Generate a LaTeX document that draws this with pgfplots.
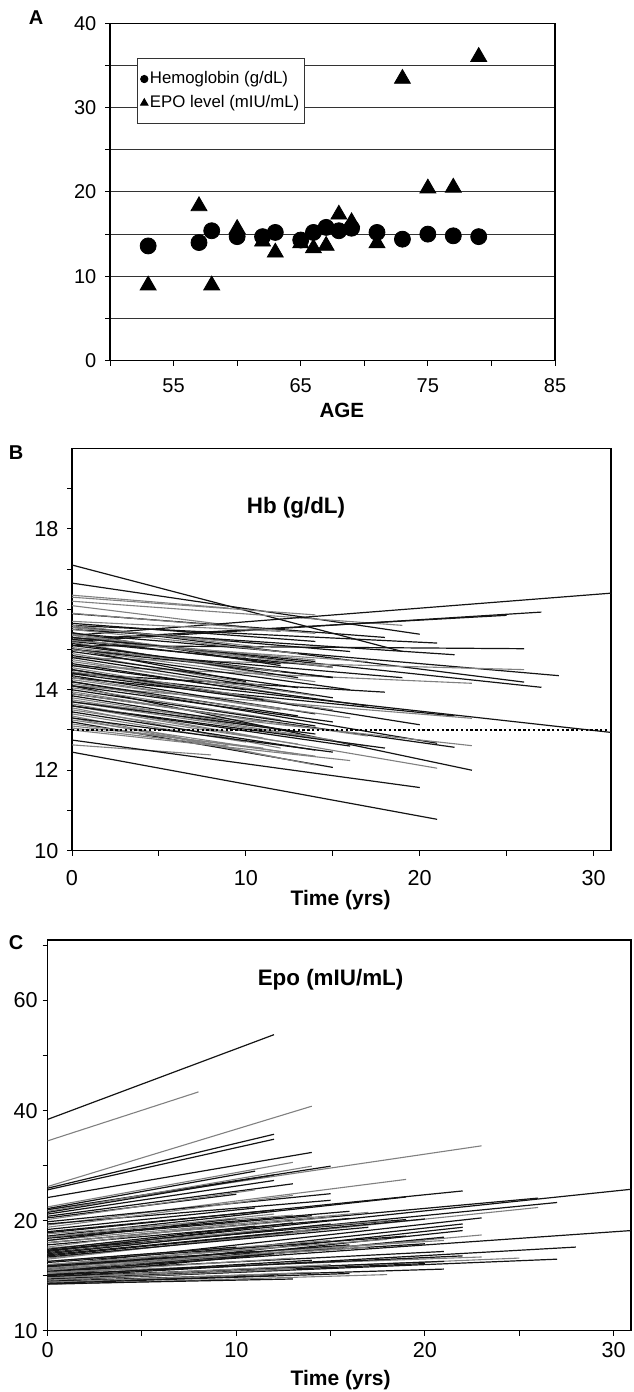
\documentclass[border=0pt]{standalone}
\usepackage{fontspec}
\setmainfont{Liberation Sans}
\usepackage{pgfplots}
\pgfplotsset{compat=1.18}

\tikzset{
  k/.style={black!92, line width=0.6pt},
  g/.style={black!50, line width=0.55pt},
}
\pgfplotsset{
  panel/.style={
    scale only axis, enlargelimits=false,
    axis line style={black, line width=0.6pt},
    tick style={black, line width=0.5pt},
    tick align=outside, major tick length=2.5pt,
    xtick pos=left, ytick pos=left,
    /pgf/number format/assume math mode=true,
  },
}

\begin{document}
\begin{tikzpicture}

% ---------------- A ----------------
\begin{axis}[panel,
  at={(55pt,-180.3pt)}, anchor=south west,
  width=222.5pt, height=168.65pt,
  xmin=50, xmax=85, ymin=0, ymax=40,
  xtick={50,55,...,85}, xticklabels={,55,,65,,75,,85},
  ytick={0,5,...,40}, yticklabels={0,,10,,20,,30,,40},
  ymajorgrids, grid style={black!80, line width=0.5pt},
  ticklabel style={font=\fontsize{10}{12}\selectfont},
  xticklabel style={yshift=-3pt},
  yticklabel style={xshift=-0.8pt},
  xlabel={\bfseries AGE},
  xlabel style={font=\fontsize{10.3}{12}\selectfont, at={(axis description cs:0.521,-0.1465)}, anchor=center},
  legend image code/.code={\draw[#1] plot coordinates {(0pt,0pt)};},
  legend style={at={(0.061,0.897)}, anchor=north west, draw=black!80, line width=0.5pt,
    fill=white, font=\fontsize{8.4}{10}\selectfont, cells={anchor=west},
    inner xsep=1.5pt, inner ysep=6pt, row sep=3.5pt,
    nodes={inner xsep=1pt, inner ysep=0pt, text height=6.5pt, text depth=2pt}},
]
\addplot[only marks, mark=*, mark size=4pt, black, forget plot] coordinates {
  (53,13.6)(57,14.0)(58,15.4)(60,14.7)(62,14.7)(63,15.2)(65,14.3)(66,15.2)
  (67,15.8)(68,15.4)(69,15.7)(71,15.2)(73,14.4)(75,15.0)(77,14.8)(79,14.7)};
\addplot[only marks, mark=triangle*, mark size=4.6pt, black, mark options={yshift=-1.15pt}, forget plot] coordinates {
  (53,9.2)(57,18.6)(58,9.2)(60,15.9)(62,14.4)(63,13.1)(65,14.2)(66,13.6)
  (67,13.9)(68,17.6)(69,16.7)(71,14.2)(73,33.7)(75,20.7)(77,20.8)(79,36.3)};
\addlegendimage{black, mark=*, mark size=1.8pt}
\addlegendentry{Hemoglobin (g/dL)}
\addlegendimage{black, mark=triangle*, mark size=2.1pt}
\addlegendentry{EPO level (mIU/mL)}
\end{axis}

% ---------------- B ----------------
\begin{axis}[panel,
  at={(36pt,-425.35pt)}, anchor=south west,
  width=269.5pt, height=201.2pt,
  xmin=0, xmax=31, ymin=10, ymax=20,
  xtick={0,5,...,30}, xticklabels={0,,10,,20,,30},
  ytick={10,11,...,19}, yticklabels={10,,12,,14,,16,,18,},
  ticklabel style={font=\fontsize{10.8}{12}\selectfont},
  xticklabel style={yshift=-4pt},
  yticklabel style={xshift=-0.8pt},
  xlabel={\bfseries Time (yrs)},
  xlabel style={font=\fontsize{10.5}{12}\selectfont, at={(axis description cs:0.4985,-0.1225)}, anchor=center},
]
\addplot[k] coordinates {(0,17.10)(19,14.95)};
\addplot[k] coordinates {(0,16.65)(20,15.38)};
\addplot[g] coordinates {(0,16.35)(9,16.03)};
\addplot[g] coordinates {(0,16.30)(14,15.86)};
\addplot[g] coordinates {(0,16.20)(19,15.60)};
\addplot[g] coordinates {(0,16.09)(11,15.50)};
\addplot[k] coordinates {(0,15.89)(18,15.30)};
\addplot[k] coordinates {(0,15.35)(31,16.40)};
\addplot[k] coordinates {(0,15.20)(27,15.93)};
\addplot[k] coordinates {(0,15.25)(25,15.85)};
\addplot[k] coordinates {(0,15.60)(21,15.16)};
\addplot[k] coordinates {(0,15.50)(22,14.87)};
\addplot[k] coordinates {(0,15.10)(26,15.02)};
\addplot[k] coordinates {(0,15.40)(28,14.35)};
\addplot[k] coordinates {(0,15.60)(26,14.19)};
\addplot[k] coordinates {(0,15.30)(27,14.06)};
\addplot[g] coordinates {(0,14.80)(26,14.50)};
\addplot[k] coordinates {(0,15.00)(19,14.30)};
\addplot[g] coordinates {(0,14.60)(23,14.16)};
\addplot[k] coordinates {(0,14.40)(18,13.94)};
\addplot[k] coordinates {(0,14.43)(31,12.94)};
\addplot[k] coordinates {(0,14.30)(22,13.35)};
\addplot[k] coordinates {(0,14.50)(20,13.13)};
\addplot[g] coordinates {(0,14.10)(23,13.29)};
\addplot[k] coordinates {(0,14.20)(21,12.67)};
\addplot[k] coordinates {(0,13.90)(22,12.57)};
\addplot[g] coordinates {(0,13.70)(23,12.61)};
\addplot[k] coordinates {(0,14.10)(23,12.00)};
\addplot[g] coordinates {(0,13.60)(21,12.05)};
\addplot[k] coordinates {(0,13.20)(15,12.07)};
\addplot[g] coordinates {(0,13.30)(14,12.13)};
\addplot[g] coordinates {(0,13.00)(16,12.24)};
\addplot[g] coordinates {(0,12.63)(8,12.38)};
\addplot[k] coordinates {(0,12.75)(20,11.57)};
\addplot[k] coordinates {(0,12.45)(21,10.78)};
\addplot[g] coordinates {(0,13.70)(17,12.60)};
\addplot[k] coordinates {(0,13.60)(18,12.55)};
\addplot[k] coordinates {(0,15.20)(15,14.56)};
\addplot[k] coordinates {(0,15.00)(15,14.31)};
\addplot[g] coordinates {(0,15.30)(14,14.74)};
\addplot[g] coordinates {(0,15.70)(12,15.45)};
\addplot[k] coordinates {(0,15.65)(14,15.20)};
\addplot[g] coordinates {(0,15.60)(11,15.05)};
\addplot[k] coordinates {(0,15.55)(16,14.95)};
\addplot[g] coordinates {(0,15.50)(13,14.90)};
\addplot[k] coordinates {(0,15.42)(12,14.60)};
\addplot[g] coordinates {(0,15.38)(15,14.55)};
\addplot[g] coordinates {(0,15.35)(10,14.80)};
\addplot[k] coordinates {(0,15.30)(14,14.70)};
\addplot[k] coordinates {(0,15.25)(12,14.65)};
\addplot[g] coordinates {(0,15.22)(17,14.70)};
\addplot[g] coordinates {(0,15.18)(11,14.40)};
\addplot[k] coordinates {(0,15.15)(13,14.30)};
\addplot[k] coordinates {(0,15.10)(15,14.30)};
\addplot[g] coordinates {(0,15.05)(12,14.45)};
\addplot[k] coordinates {(0,15.02)(10,14.20)};
\addplot[g] coordinates {(0,15.00)(14,14.20)};
\addplot[k] coordinates {(0,14.95)(16,14.00)};
\addplot[g] coordinates {(0,14.90)(11,14.10)};
\addplot[k] coordinates {(0,14.85)(13,14.05)};
\addplot[k] coordinates {(0,14.80)(15,13.80)};
\addplot[g] coordinates {(0,14.75)(12,13.90)};
\addplot[g] coordinates {(0,14.70)(14,13.85)};
\addplot[k] coordinates {(0,14.65)(10,14.00)};
\addplot[k] coordinates {(0,14.60)(17,13.60)};
\addplot[g] coordinates {(0,14.55)(12,13.70)};
\addplot[k] coordinates {(0,14.50)(13,13.60)};
\addplot[g] coordinates {(0,14.45)(15,13.50)};
\addplot[k] coordinates {(0,14.40)(11,13.75)};
\addplot[k] coordinates {(0,14.35)(14,13.40)};
\addplot[g] coordinates {(0,14.30)(12,13.50)};
\addplot[g] coordinates {(0,14.25)(16,13.30)};
\addplot[k] coordinates {(0,14.20)(13,13.35)};
\addplot[g] coordinates {(0,14.15)(10,13.55)};
\addplot[k] coordinates {(0,14.10)(15,13.20)};
\addplot[g] coordinates {(0,14.05)(12,13.25)};
\addplot[k] coordinates {(0,14.00)(14,13.10)};
\addplot[g] coordinates {(0,13.95)(11,13.20)};
\addplot[g] coordinates {(0,13.90)(17,12.85)};
\addplot[k] coordinates {(0,13.85)(13,12.95)};
\addplot[g] coordinates {(0,13.80)(12,13.00)};
\addplot[g] coordinates {(0,13.75)(15,12.75)};
\addplot[k] coordinates {(0,13.70)(14,12.90)};
\addplot[g] coordinates {(0,13.65)(11,12.80)};
\addplot[k] coordinates {(0,13.60)(16,12.60)};
\addplot[g] coordinates {(0,13.55)(12,12.55)};
\addplot[g] coordinates {(0,13.50)(13,12.65)};
\addplot[k] coordinates {(0,13.45)(14,12.50)};
\addplot[g] coordinates {(0,13.40)(10,12.70)};
\addplot[g] coordinates {(0,13.35)(12,12.30)};
\addplot[k] coordinates {(0,13.30)(15,12.45)};
\addplot[g] coordinates {(0,13.25)(13,12.40)};
\addplot[g] coordinates {(0,13.15)(14,12.35)};
\addplot[g] coordinates {(0,13.10)(11,12.55)};
\addplot[g] coordinates {(0,13.05)(9,12.60)};
\addplot[g] coordinates {(0,15.55)(9,15.20)};
\addplot[g] coordinates {(0,15.90)(14,15.40)};
\addplot[black, line width=0.9pt, dash pattern=on 1.2pt off 1.2pt] coordinates {(0,13)(31,13)};
\node[font=\bfseries\fontsize{11.2}{13}\selectfont] at (rel axis cs:0.4156,0.8516) {Hb (g/dL)};
\end{axis}

% ---------------- C ----------------
\begin{axis}[panel,
  at={(23.8pt,-665.35pt)}, anchor=south west,
  width=291.7pt, height=195.35pt,
  y coord trafo/.code={\pgfmathparse{#1<20 ? #1/10-1 : #1/20}},
  y coord inv trafo/.code={\pgfmathparse{#1<1 ? 10*(#1+1) : 20*#1}},
  xmin=0, xmax=30.92, ymin=10, ymax=71,
  xtick={0,5,...,30}, xticklabels={0,,10,,20,,30},
  ytick={10,15,20,30,40,50,60,70}, yticklabels={10,,20,,40,,60,},
  ticklabel style={font=\fontsize{10.8}{12}\selectfont},
  xticklabel style={yshift=0pt},
  yticklabel style={xshift=1pt},
  xlabel={\bfseries Time (yrs)},
  xlabel style={font=\fontsize{10.5}{12}\selectfont, at={(axis description cs:0.5024,-0.126)}, anchor=center},
]
\addplot[k] coordinates {(0,38.4)(12,53.8)};
\addplot[g] coordinates {(0,34.5)(8,43.4)};
\addplot[g] coordinates {(0,26.2)(14,40.8)};
\addplot[k] coordinates {(0,25.9)(12,35.7)};
\addplot[k] coordinates {(0,25.6)(12,34.8)};
\addplot[k] coordinates {(0,24.2)(14,32.4)};
\addplot[g] coordinates {(0,22.0)(23,33.6)};
\addplot[g] coordinates {(0,22.5)(13,30.6)};
\addplot[k] coordinates {(0,22.2)(11,29.0)};
\addplot[k] coordinates {(0,22.0)(15,29.9)};
\addplot[g] coordinates {(0,21.7)(14,29.9)};
\addplot[k] coordinates {(0,21.5)(12,28.3)};
\addplot[k] coordinates {(0,21.2)(12,27.3)};
\addplot[k] coordinates {(0,20.8)(13,26.7)};
\addplot[k] coordinates {(0,20.5)(10,24.8)};
\addplot[g] coordinates {(0,19.6)(19,27.5)};
\addplot[g] coordinates {(0,20.2)(11,25.6)};
\addplot[k] coordinates {(0,19.9)(15,24.9)};
\addplot[k] coordinates {(0,19.7)(15,23.7)};
\addplot[g] coordinates {(0,19.4)(13,24.6)};
\addplot[k] coordinates {(0,18.9)(22,25.4)};
\addplot[k] coordinates {(0,18.6)(19,24.3)};
\addplot[k] coordinates {(0,18.0)(26,24.1)};
\addplot[k] coordinates {(0,17.3)(30.92,25.7)};
\addplot[k] coordinates {(0,17.1)(27,23.3)};
\addplot[g] coordinates {(0,16.6)(26,22.4)};
\addplot[g] coordinates {(0,18.2)(17,21.5)};
\addplot[k] coordinates {(0,18.5)(16,21.7)};
\addplot[k] coordinates {(0,15.9)(23,20.5)};
\addplot[k] coordinates {(0,16.9)(20,20.3)};
\addplot[k] coordinates {(0,15.6)(22,19.7)};
\addplot[k] coordinates {(0,15.3)(22,19.4)};
\addplot[k] coordinates {(0,15.1)(22,19.1)};
\addplot[g] coordinates {(0,15.2)(23,18.7)};
\addplot[k] coordinates {(0,15.4)(30.92,19.1)};
\addplot[k] coordinates {(0,15.0)(21,18.5)};
\addplot[k] coordinates {(0,14.9)(28,17.6)};
\addplot[k] coordinates {(0,14.6)(27,16.5)};
\addplot[g] coordinates {(0,14.8)(25,16.6)};
\addplot[k] coordinates {(0,14.5)(21,15.6)};
\addplot[g] coordinates {(0,14.2)(18,15.1)};
\addplot[k] coordinates {(0,14.25)(13,14.7)};
\addplot[k] coordinates {(0,14.4)(12,15.0)};
\addplot[k] coordinates {(0,15.4)(21,17.2)};
\addplot[k] coordinates {(0,15.8)(20,17.9)};
\addplot[g] coordinates {(0,16.0)(21,18.2)};
\addplot[k] coordinates {(0,14.7)(20,16.1)};
\addplot[k] coordinates {(0,14.9)(21,16.3)};
\addplot[g] coordinates {(0,15.3)(23,16.7)};
\addplot[k] coordinates {(0,15.1)(22,16.8)};
\addplot[k] coordinates {(0,16.2)(19,18.6)};
\addplot[k] coordinates {(0,17.3)(19,20.2)};
\addplot[g] coordinates {(0,17.5)(18,20.0)};
\addplot[k] coordinates {(0,17.8)(16,20.4)};
\addplot[g] coordinates {(0,18.0)(15,20.6)};
\addplot[k] coordinates {(0,18.4)(14,20.9)};
\addplot[g] coordinates {(0,18.8)(13,21.0)};
\addplot[k] coordinates {(0,19.0)(12,21.9)};
\addplot[k] coordinates {(0,19.2)(11,22.3)};
\addplot[g] coordinates {(0,16.5)(14,19.2)};
\addplot[k] coordinates {(0,16.8)(13,19.0)};
\addplot[g] coordinates {(0,17.0)(12,19.3)};
\addplot[k] coordinates {(0,17.4)(11,19.5)};
\addplot[g] coordinates {(0,17.6)(10,19.8)};
\addplot[g] coordinates {(0,16.3)(15,18.2)};
\addplot[k] coordinates {(0,15.8)(16,17.8)};
\addplot[g] coordinates {(0,15.6)(17,17.6)};
\addplot[k] coordinates {(0,15.5)(12,17.0)};
\addplot[g] coordinates {(0,15.2)(13,16.6)};
\addplot[k] coordinates {(0,15.0)(14,16.4)};
\addplot[g] coordinates {(0,14.8)(15,16.0)};
\addplot[k] coordinates {(0,14.6)(11,15.4)};
\addplot[g] coordinates {(0,16.0)(12,17.6)};
\addplot[k] coordinates {(0,16.3)(10,17.6)};
\addplot[g] coordinates {(0,14.4)(14,15.3)};
\addplot[k] coordinates {(0,14.3)(16,15.2)};
\addplot[g] coordinates {(0,15.7)(9,16.8)};
\addplot[k] coordinates {(0,17.2)(13,19.8)};
\addplot[g] coordinates {(0,16.0)(18,18.3)};
\addplot[k] coordinates {(0,16.7)(17,19.4)};
\addplot[k] coordinates {(0,18.2)(10,20.4)};
\addplot[g] coordinates {(0,18.5)(12,21.2)};
\addplot[k] coordinates {(0,17.0)(15,19.7)};
\addplot[g] coordinates {(0,15.5)(20,18.2)};
\addplot[g] coordinates {(0,14.6)(13,15.6)};
\addplot[k] coordinates {(0,15.9)(11,17.2)};
\node[font=\bfseries\fontsize{11.2}{13}\selectfont] at (rel axis cs:0.485,0.8976) {Epo (mIU/mL)};
\end{axis}

\node[font=\bfseries\fontsize{10}{12}\selectfont] at (18pt,-9pt) {A};
\node[font=\bfseries\fontsize{10}{12}\selectfont] at (8pt,-226.5pt) {B};
\node[font=\bfseries\fontsize{10}{12}\selectfont] at (8pt,-471.5pt) {C};

\pgfresetboundingbox
\useasboundingbox (0,0) rectangle (316.5pt,-696pt);
\end{tikzpicture}
\end{document}
